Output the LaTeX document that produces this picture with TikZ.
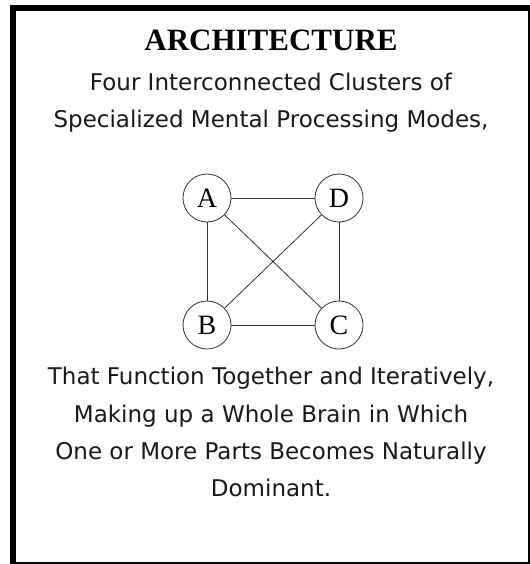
\documentclass[tikz,border=0pt]{standalone}
\usepackage{fontspec}
\setmainfont{Liberation Serif}
\newfontfamily\bodyfont{DejaVu Sans}
\begin{document}
\begin{tikzpicture}[x=1bp,y=-1bp,
  txt/.style={anchor=base, inner sep=0pt, font=\bodyfont\fontsize{23bp}{27bp}\selectfont, text=black!90},
  ttl/.style={anchor=base, inner sep=0pt, font=\bfseries\fontsize{31bp}{36bp}\selectfont},
  mode/.style={circle, draw=black!80, line width=0.8bp, minimum size=48bp, inner sep=0pt, font=\fontsize{28bp}{30bp}\selectfont},
  link/.style={draw=black!80, line width=0.8bp}]
\useasboundingbox (0,0) rectangle (530,564);
\fill[white] (0,0) rectangle (530,564);
% frame
\fill[black] (10,5) rectangle (16,563);
\fill[black] (10,5) rectangle (529,11);
\fill[black] (528,5) rectangle (529.5,563);
\fill[black] (10,562) rectangle (529.5,563.5);
% texts
\node[ttl] (title) at (271,51) {ARCHITECTURE};
\node[txt] (l1) at (271,91) {Four Interconnected Clusters of};
\node[txt] (l2) at (271,128) {Specialized Mental Processing Modes,};
\node[txt] (l3) at (271,384) {That Function Together and Iteratively,};
\node[txt] (l4) at (271,422) {Making up a Whole Brain in Which};
\node[txt] (l5) at (271,459) {One or More Parts Becomes Naturally};
\node[txt] (l6) at (271,496) {Dominant.};
% graph
\node[mode] (A) at (207,198) {A};
\node[mode] (D) at (339,198) {D};
\node[mode] (B) at (207,325) {B};
\node[mode] (C) at (339,325) {C};
\draw[link] (A) -- (D);
\draw[link] (B) -- (C);
\draw[link] (A) -- (B);
\draw[link] (D) -- (C);
\draw[link] (A) -- (C);
\draw[link] (D) -- (B);
\end{tikzpicture}
\end{document}
